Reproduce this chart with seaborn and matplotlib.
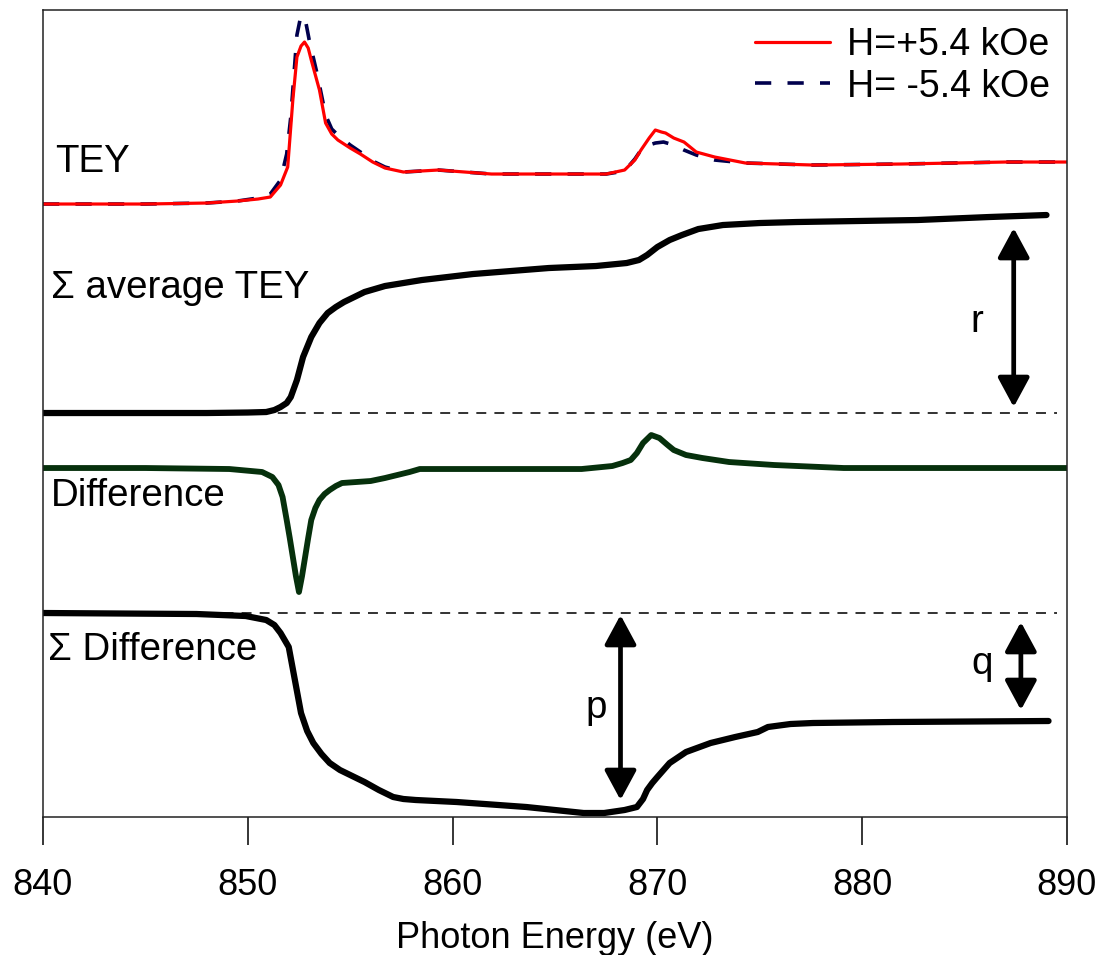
import numpy as np
import pandas as pd
import matplotlib.pyplot as plt
import seaborn as sns
from matplotlib.patches import ArrowStyle

# Photon energy (eV) and signal heights (a.u.), each relative to its own baseline
tey_plus_e = [840, 845, 848, 849.5, 850.5, 851.1, 851.6, 851.95, 852.2, 852.4, 852.6, 852.77, 852.95,
              853.1, 853.5, 853.8, 854.1, 854.4, 855.0, 855.5, 856.1, 856.7, 857.6, 859.3, 861.9,
              864.8, 867.5, 868.4, 868.9, 869.2, 869.6, 869.9, 870.2, 870.4, 870.8, 871.3, 871.9,
              872.8, 874.3, 877.6, 881.9, 887.0, 890]
tey_plus = [0, 0, 1, 3, 5, 7, 19, 37, 104, 147, 158, 162, 156,
            144, 114, 81, 70, 64, 56, 50, 42, 36, 32, 34, 30,
            30, 30, 34, 44, 54, 66, 74, 72, 71, 66, 62, 52,
            47, 41, 39, 40, 42, 42]

tey_minus_e = [840, 845, 848, 849.5, 850.5, 851.1, 851.6, 851.9, 852.1, 852.4, 852.55, 852.7, 852.85,
               853.0, 853.4, 853.8, 854.1, 854.4, 855.0, 855.5, 856.1, 856.7, 857.6, 859.3, 861.9,
               864.8, 867.5, 868.4, 868.9, 869.3, 869.9, 870.3, 870.8, 871.3, 871.9, 872.8, 874.3,
               877.6, 881.9, 887.0, 890]
tey_minus = [0, 0, 1, 3, 6, 10, 24, 50, 87, 169, 184, 189, 180,
             164, 129, 89, 75, 69, 59, 52, 43, 37, 32, 34, 30,
             30, 30, 33, 45, 57, 61, 62, 59, 54, 49, 44, 41,
             39, 40, 42, 42]

sum_avg_e = [840, 848, 850, 850.9, 851.3, 851.6, 851.9, 852.1, 852.4, 852.7, 853.1, 853.5, 853.9,
             854.3, 854.7, 855.2, 855.7, 856.7, 858.5, 861.0, 864.7, 867.0, 868.5, 869.1, 869.5,
             870.0, 870.6, 871.2, 872.0, 873.2, 875.0, 876.8, 882.7, 886.2, 889.0]
sum_avg = [0, 0, 0.5, 1, 3, 6, 10, 16, 33, 56, 76, 90, 100,
           106, 111, 116, 121, 127, 133, 139, 145, 147, 150, 153, 158,
           166, 173, 178, 184, 188, 190, 191, 193, 196, 198]

diff_e = [840, 845, 849.1, 850.7, 851.2, 851.5, 851.7, 851.9, 852.05, 852.2, 852.35, 852.5, 852.65,
          852.8, 852.95, 853.1, 853.3, 853.5, 853.75, 854.0, 854.3, 854.6, 855.3, 856.0, 856.7,
          857.3, 857.9, 858.4, 862.2, 866.3, 867.8, 868.3, 868.7, 869.0, 869.3, 869.7, 870.1,
          870.5, 870.8, 871.4, 872.2, 873.5, 875.7, 879.1, 890]
diff = [0, 0, -1, -4, -9, -17, -29, -52, -70, -89, -108, -124, -108,
        -89, -70, -52, -40, -32, -26, -22, -18, -15, -14, -13, -10,
        -7, -4, -1, -1, -1, 2, 5, 8, 15, 25, 33, 30,
        23, 18, 13, 10, 6, 3, 0, 0]

sum_diff_e = [840, 847.5, 849.9, 850.9, 851.3, 851.6, 852.0, 852.3, 852.6, 852.9, 853.2, 853.6, 854.0,
              854.5, 855.0, 855.7, 856.4, 857.1, 857.6, 858.2, 860.2, 863.6, 866.4, 867.4, 868.4,
              868.8, 869.0, 869.3, 869.5, 869.75, 870.0, 870.6, 871.4, 872.6, 873.8, 874.9, 875.4,
              876.5, 877.6, 881.5, 889.1]
sum_diff = [0, -1, -3, -7, -12, -20, -34, -67, -100, -118, -130, -141, -150,
            -157, -162, -169, -177, -184, -186, -187, -189, -194, -200, -200, -197,
            -195, -194, -186, -177, -170, -164, -150, -139, -130, -124, -119, -114,
            -111, -110, -109, -108]

xticks = [840, 850, 860, 870, 880, 890]

# vertical offsets of the stacked traces
off_tey, off_avg, off_diff, off_sdiff = 613, 404, 349, 204

sns.set_style('ticks')
plt.rcParams['font.family'] = ['Liberation Sans', 'DejaVu Sans']
plt.rcParams['text.color'] = 'black'
plt.rcParams['axes.labelcolor'] = 'black'

fig = plt.figure(figsize=(11.02, 9.55), dpi=100)
ax = fig.add_axes([0.039, 0.1445, 0.9292, 0.845])

# reference lines
ax.plot([840, 889.5], [off_avg, off_avg], color='#222222', lw=1.3, ls=(0, (5.5, 4.5)))
ax.plot([840, 889.5], [off_sdiff, off_sdiff], color='#222222', lw=1.3, ls=(0, (5.5, 4.5)))

sns.lineplot(x=tey_minus_e, y=np.array(tey_minus) + off_tey, ax=ax, color='#00004d', lw=2.6,
             linestyle=(0, (4.5, 4.5)), label='H= -5.4 kOe')
sns.lineplot(x=tey_plus_e, y=np.array(tey_plus) + off_tey, ax=ax, color='#ff0000', lw=2.3,
             label='H=+5.4 kOe')
sns.lineplot(x=sum_avg_e, y=np.array(sum_avg) + off_avg, ax=ax, color='black', lw=4.5,
             solid_capstyle='round', legend=False)
sns.lineplot(x=diff_e, y=np.array(diff) + off_diff, ax=ax, color='#06300c', lw=4.2,
             solid_capstyle='round', legend=False)
sns.lineplot(x=sum_diff_e, y=np.array(sum_diff) + off_sdiff, ax=ax, color='black', lw=4.5,
             solid_capstyle='round', legend=False)

# double arrows r, p, q
astyle = ArrowStyle('<|-|>', head_length=0.5, head_width=0.27)
for xa, y0, y1 in [(887.4, 410, 589), (868.2, 17, 202), (887.75, 107, 195)]:
    ax.annotate('', xy=(xa, y1), xytext=(xa, y0),
                arrowprops=dict(arrowstyle=astyle, mutation_scale=36, lw=3.4, color='black',
                                shrinkA=0, shrinkB=0))

fs = 27.7
ax.text(840.6, 655, 'TEY', fontsize=fs, va='center', ha='left')
ax.text(840.4, 529, 'Σ average TEY', fontsize=fs, va='center', ha='left')
ax.text(840.4, 321, 'Difference', fontsize=fs, va='center', ha='left')
ax.text(840.25, 167, 'Σ Difference', fontsize=fs, va='center', ha='left')
ax.text(885.6, 495, 'r', fontsize=fs, va='center', ha='center')
ax.text(867.0, 109, 'p', fontsize=fs, va='center', ha='center')
ax.text(885.85, 153, 'q', fontsize=fs, va='center', ha='center')

handles, labels = ax.get_legend_handles_labels()
ax.legend(handles[::-1], labels[::-1], loc='upper right', frameon=False, fontsize=27,
          handlelength=2.0, handletextpad=0.45, labelspacing=0.15, borderaxespad=0.35,
          borderpad=0.1)

ax.set_xlim(840, 890)
ax.set_ylim(0, 807)
ax.set_xticks(xticks)
ax.set_yticks([])
ax.set_ylabel('')
ax.tick_params(axis='x', direction='out', length=20, width=1.1, labelsize=26, pad=17,
               colors='black')
for sp in ax.spines.values():
    sp.set_visible(True)
    sp.set_linewidth(1.1)
    sp.set_color('#222222')
ax.set_xlabel('Photon Energy (eV)', fontsize=26, labelpad=13)

fig.savefig('out.png', dpi=100)
